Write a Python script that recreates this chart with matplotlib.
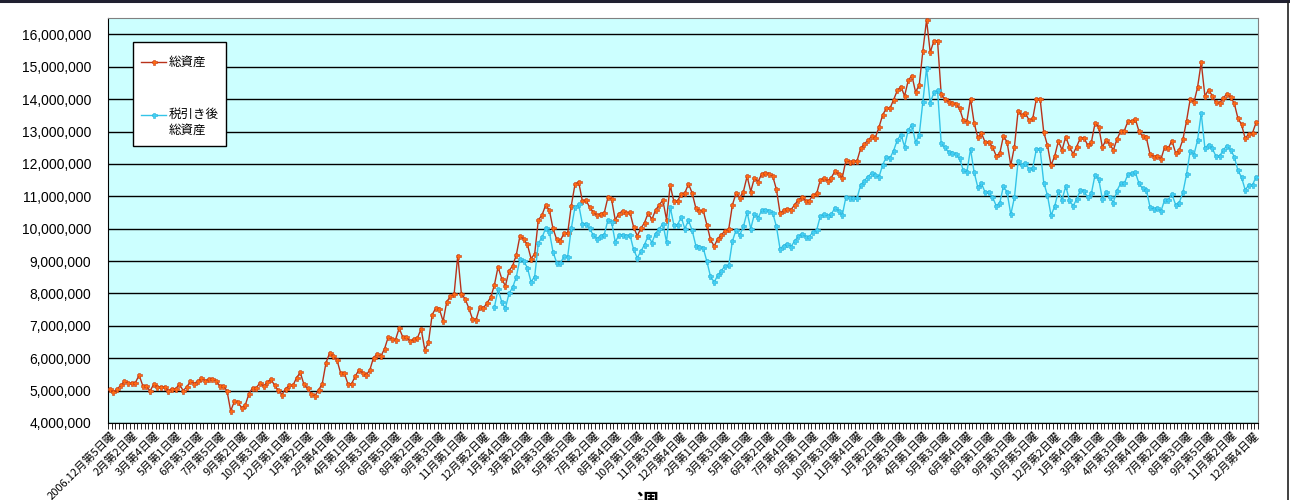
import numpy as np
import matplotlib
matplotlib.use('Agg')
import matplotlib.pyplot as plt
from matplotlib.patches import Rectangle
from matplotlib.lines import Line2D
from matplotlib.ticker import MultipleLocator, FuncFormatter

plt.rcParams['font.family'] = ['Noto Sans CJK JP', 'DejaVu Sans']

# x-axis labels: one every 6 weeks
week_labels = [
    '2006.12月第5日曜', '2月第2日曜', '3月第4日曜', '5月第1日曜', '6月第3日曜', '7月第5日曜',
    '9月第2日曜', '10月第3日曜', '12月第1日曜',
    '1月第2日曜', '2月第4日曜', '4月第1日曜', '5月第3日曜', '6月第5日曜', '8月第2日曜',
    '9月第3日曜', '11月第1日曜', '12月第2日曜',
    '1月第4日曜', '3月第2日曜', '4月第3日曜', '5月第5日曜', '7月第2日曜', '8月第4日曜',
    '10月第1日曜', '11月第3日曜', '12月第4日曜',
    '2月第1日曜', '3月第3日曜', '5月第1日曜', '6月第2日曜', '7月第4日曜', '9月第1日曜',
    '10月第3日曜', '11月第4日曜',
    '1月第2日曜', '2月第3日曜', '4月第1日曜', '5月第3日曜', '6月第4日曜', '8月第1日曜',
    '9月第3日曜', '10月第5日曜', '12月第2日曜',
    '1月第4日曜', '3月第1日曜', '4月第3日曜', '5月第4日曜', '7月第2日曜', '8月第3日曜',
    '9月第5日曜', '11月第2日曜', '12月第4日曜',
]
label_step = 6

# weekly values, millions of yen
total_assets = [
    5.04, 4.96, 5.05, 5.16, 5.29, 5.23, 5.23, 5.25, 5.48, 5.15,
    5.13, 4.99, 5.20, 5.12, 5.12, 5.12, 5.00, 5.06, 5.06, 5.20,
    5.00, 5.11, 5.29, 5.22, 5.29, 5.38, 5.31, 5.35, 5.37, 5.30,
    5.15, 5.15, 4.99, 4.37, 4.67, 4.64, 4.47, 4.56, 4.91, 5.09,
    5.09, 5.24, 5.13, 5.27, 5.35, 5.16, 5.01, 4.88, 5.06, 5.16,
    5.16, 5.40, 5.56, 5.19, 5.07, 4.90, 4.84, 5.02, 5.21, 5.85,
    6.16, 6.06, 5.95, 5.55, 5.55, 5.21, 5.21, 5.44, 5.64, 5.55,
    5.48, 5.64, 6.02, 6.13, 6.06, 6.29, 6.65, 6.59, 6.57, 6.93,
    6.65, 6.65, 6.53, 6.59, 6.63, 6.91, 6.26, 6.49, 7.34, 7.55,
    7.51, 7.14, 7.75, 7.91, 7.98, 9.17, 7.98, 7.84, 7.55, 7.22,
    7.19, 7.58, 7.55, 7.71, 7.88, 8.26, 8.82, 8.46, 8.23, 8.70,
    8.86, 9.20, 9.79, 9.67, 9.52, 9.08, 9.22, 10.27, 10.42, 10.73,
    10.58, 10.01, 9.67, 9.63, 9.86, 9.86, 10.71, 11.37, 11.45, 10.87,
    10.89, 10.66, 10.52, 10.41, 10.47, 10.49, 10.97, 10.91, 10.27, 10.47,
    10.55, 10.49, 10.51, 10.06, 9.78, 10.01, 10.19, 10.49, 10.29, 10.57,
    10.74, 10.88, 10.28, 11.34, 10.85, 10.85, 11.08, 11.10, 11.39, 11.10,
    10.64, 10.55, 10.57, 10.13, 9.67, 9.46, 9.69, 9.82, 9.93, 10.00,
    10.74, 11.10, 10.96, 11.15, 11.62, 11.15, 11.57, 11.45, 11.70, 11.72,
    11.70, 11.62, 11.22, 10.48, 10.57, 10.62, 10.59, 10.74, 10.90, 10.97,
    10.87, 10.87, 11.04, 11.09, 11.51, 11.56, 11.48, 11.58, 11.78, 11.68,
    11.58, 12.12, 12.06, 12.09, 12.09, 12.48, 12.62, 12.73, 12.85, 12.81,
    13.13, 13.51, 13.72, 13.72, 13.98, 14.27, 14.39, 14.10, 14.58, 14.73,
    14.22, 14.44, 15.50, 16.45, 15.45, 15.80, 15.80, 14.15, 14.01, 13.92,
    13.88, 13.85, 13.72, 13.36, 13.30, 14.02, 13.26, 12.82, 12.95, 12.67,
    12.67, 12.54, 12.25, 12.33, 12.87, 12.67, 11.96, 12.54, 13.64, 13.51,
    13.57, 13.35, 13.41, 14.02, 14.02, 12.98, 12.58, 11.96, 12.25, 12.71,
    12.43, 12.84, 12.54, 12.31, 12.54, 12.81, 12.81, 12.58, 12.67, 13.26,
    13.15, 12.52, 12.74, 12.62, 12.43, 12.77, 13.01, 13.03, 13.32, 13.32,
    13.39, 13.01, 12.86, 12.82, 12.31, 12.23, 12.26, 12.15, 12.52, 12.49,
    12.72, 12.34, 12.43, 12.76, 13.34, 14.01, 13.90, 14.37, 15.14, 14.10,
    14.29, 14.11, 13.90, 13.88, 14.04, 14.16, 14.06, 13.88, 13.42, 13.22,
    12.79, 12.93, 12.96, 13.29,
]

# after-tax series begins at week index 105
after_tax_start = 105
after_tax_assets = [
    7.57, 8.13, 7.74, 7.54, 8.00, 8.19, 8.52, 9.08, 9.00, 8.80,
    8.36, 8.52, 9.55, 9.73, 10.01, 9.91, 9.29, 8.95, 8.93, 9.15,
    9.13, 10.01, 10.66, 10.76, 10.16, 10.16, 10.01, 9.80, 9.69, 9.79,
    9.82, 10.27, 10.21, 9.59, 9.80, 9.82, 9.77, 9.82, 9.36, 9.10,
    9.30, 9.51, 9.79, 9.57, 9.85, 10.00, 10.15, 9.59, 10.67, 10.12,
    10.12, 10.36, 10.00, 10.26, 9.95, 9.48, 9.43, 9.41, 9.00, 8.53,
    8.35, 8.56, 8.71, 8.85, 8.87, 9.62, 9.97, 9.81, 10.07, 10.51,
    10.00, 10.46, 10.34, 10.57, 10.59, 10.55, 10.49, 10.07, 9.38, 9.48,
    9.54, 9.45, 9.62, 9.77, 9.84, 9.75, 9.75, 9.91, 9.96, 10.39,
    10.45, 10.40, 10.45, 10.65, 10.55, 10.42, 10.99, 10.96, 10.96, 10.94,
    11.35, 11.48, 11.61, 11.71, 11.66, 11.59, 11.97, 12.21, 12.18, 12.41,
    12.74, 12.90, 12.54, 13.05, 13.21, 12.67, 12.90, 13.93, 14.96, 13.88,
    14.21, 14.27, 12.64, 12.51, 12.38, 12.33, 12.30, 12.18, 11.81, 11.74,
    12.46, 11.74, 11.28, 11.40, 11.12, 11.12, 10.99, 10.71, 10.80, 11.32,
    11.12, 10.44, 10.97, 12.09, 11.96, 12.02, 11.84, 11.89, 12.46, 12.46,
    11.42, 11.04, 10.41, 10.70, 11.16, 10.89, 11.32, 10.89, 10.70, 10.91,
    11.20, 11.16, 10.97, 11.09, 11.66, 11.54, 10.92, 11.12, 10.99, 10.81,
    11.18, 11.40, 11.40, 11.69, 11.72, 11.74, 11.40, 11.25, 11.20, 10.68,
    10.61, 10.64, 10.54, 10.89, 10.89, 11.07, 10.74, 10.81, 11.12, 11.69,
    12.41, 12.28, 12.74, 13.57, 12.49, 12.60, 12.49, 12.24, 12.24, 12.43,
    12.56, 12.44, 12.23, 11.81, 11.59, 11.20, 11.35, 11.35, 11.61,
]

n = len(total_assets)
weeks = np.arange(n)
total = np.array(total_assets) * 1e6
after_tax = np.full(n, np.nan)
after_tax[after_tax_start:] = np.array(after_tax_assets) * 1e6

W, H = 1290, 500
fig = plt.figure(figsize=(W / 100, H / 100), dpi=100)
ax = fig.add_axes([108 / W, 1 - 423 / H, 1150 / W, (423 - 18.3) / H])
ax.set_facecolor('#CCFFFF')

red_line, red_marker, red_edge = '#B8321A', '#FF6A10', '#C83C14'
blue_line, blue_marker, blue_edge = '#33C4E8', '#40D0F4', '#28B0D8'
msize = 3.6

ax.plot(weeks, total, color=red_line, lw=1.0, marker='P', ms=msize,
        mfc=red_marker, mec=red_edge, mew=0.4, zorder=3)
ax.plot(weeks, after_tax, color=blue_line, lw=1.0, marker='P', ms=msize,
        mfc=blue_marker, mec=blue_edge, mew=0.4, zorder=3)

# y axis
ax.set_ylim(4e6, 16.5e6)
ax.yaxis.set_major_locator(MultipleLocator(1e6))
ax.yaxis.set_major_formatter(FuncFormatter(lambda v, p: f'{v:,.0f}'))
ax.yaxis.grid(True, color='black', lw=1.0)
ax.set_axisbelow(True)
ax.tick_params(axis='y', length=0, pad=12, labelsize=10)
for t in ax.get_yticklabels():
    t.set_fontfamily(['Liberation Sans', 'DejaVu Sans'])

# x axis: category ticks between weeks, labels every 6 weeks
ax.set_xlim(-0.5, n - 0.5)
ax.set_xticks(weeks[::label_step])
ax.set_xticklabels(week_labels, rotation=45, ha='right', va='top',
                   rotation_mode='anchor', fontsize=8)
ax.set_xticks(np.arange(-0.5, n, 1), minor=True)
ax.tick_params(axis='x', which='major', length=0, pad=5)
ax.tick_params(axis='x', which='minor', length=4, width=0.6, color='black')

ax.spines['left'].set_color('black')
ax.spines['bottom'].set_color('black')
ax.spines['top'].set_color('#808080')
ax.spines['right'].set_color('#808080')

# axis title, partly cut by the bottom edge as in the screenshot
fig.text(648 / W, 1 - 492 / H, '週', fontsize=16, fontweight='bold',
         ha='center', va='top')

# legend box drawn in figure pixels
def fx(x):
    return x / W

def fy(y):
    return 1 - y / H

fig.add_artist(Rectangle((fx(133), fy(146)), fx(226) - fx(133), fy(42) - fy(146),
                         transform=fig.transFigure, facecolor='white',
                         edgecolor='black', lw=1.0, zorder=5))
fig.add_artist(Line2D([fx(141), fx(166)], [fy(62), fy(62)], color=red_line, lw=1.0,
                      transform=fig.transFigure, zorder=6))
fig.add_artist(Line2D([fx(154)], [fy(62)], marker='P', ms=msize, mfc=red_marker,
                      mec=red_edge, mew=0.4, transform=fig.transFigure, zorder=7))
fig.add_artist(Line2D([fx(141), fx(166)], [fy(114.5), fy(114.5)], color=blue_line, lw=1.0,
                      transform=fig.transFigure, zorder=6))
fig.add_artist(Line2D([fx(154)], [fy(114.5)], marker='P', ms=msize, mfc=blue_marker,
                      mec=blue_edge, mew=0.4, transform=fig.transFigure, zorder=7))
fig.text(fx(169), fy(62), '総資産', fontsize=9, va='center', ha='left', zorder=8)
fig.text(fx(169), fy(114.5), '税引き後', fontsize=9, va='center', ha='left', zorder=8)
fig.text(fx(169), fy(130.5), '総資産', fontsize=9, va='center', ha='left', zorder=8)

# outer frame pieces visible in the screenshot
fig.add_artist(Line2D([0, 1], [fy(1), fy(1)], color='#202030', lw=2.2,
                      transform=fig.transFigure))
fig.add_artist(Line2D([fx(1288), fx(1288)], [0, fy(2)], color='#202020', lw=1.2,
                      transform=fig.transFigure))

fig.savefig('out.png', dpi=100)
